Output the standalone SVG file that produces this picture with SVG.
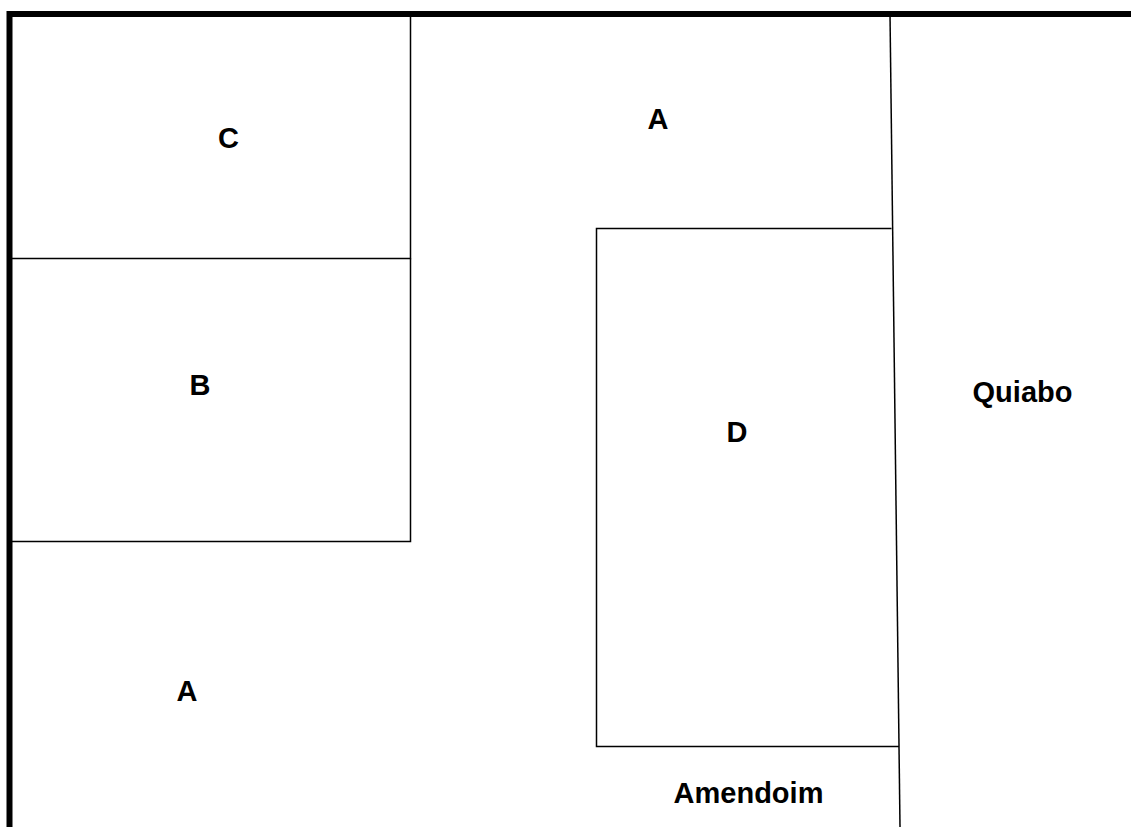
<svg xmlns="http://www.w3.org/2000/svg" width="1131" height="827" viewBox="0 0 1131 827">
<style>
.thin{stroke:#000;stroke-width:1.5;fill:none}
.thick{stroke:#000;stroke-width:6;fill:none}
.lbl{font-family:"Liberation Sans",Arial,sans-serif;font-weight:bold;font-size:29px;fill:#000;text-anchor:middle}
</style>
<rect width="1131" height="827" fill="#fff"/>
<g id="border">
<path class="thick" d="M9.5 827 V14 H1131"/>
</g>
<g id="plot-C">
<path class="thin" d="M410.5 14 V258.5 H9.5"/>
<text class="lbl" x="228.5" y="148">C</text>
</g>
<g id="plot-B">
<path class="thin" d="M410.5 258.5 V541.5 H9.5"/>
<text class="lbl" x="200" y="394.5">B</text>
</g>
<g id="plot-A-top">
<text class="lbl" x="658" y="128.5">A</text>
</g>
<g id="plot-A-bottom">
<text class="lbl" x="187" y="700.5">A</text>
</g>
<g id="plot-D">
<path class="thin" d="M891.5 228.5 H596.5 V746.5 H899"/>
<text class="lbl" x="737" y="441.5">D</text>
</g>
<g id="divider">
<path class="thin" d="M890 14 L900 827"/>
</g>
<g id="plot-Quiabo">
<text class="lbl" x="1022.5" y="402">Quiabo</text>
</g>
<g id="plot-Amendoim">
<text class="lbl" x="748.5" y="802.5">Amendoim</text>
</g>
</svg>
